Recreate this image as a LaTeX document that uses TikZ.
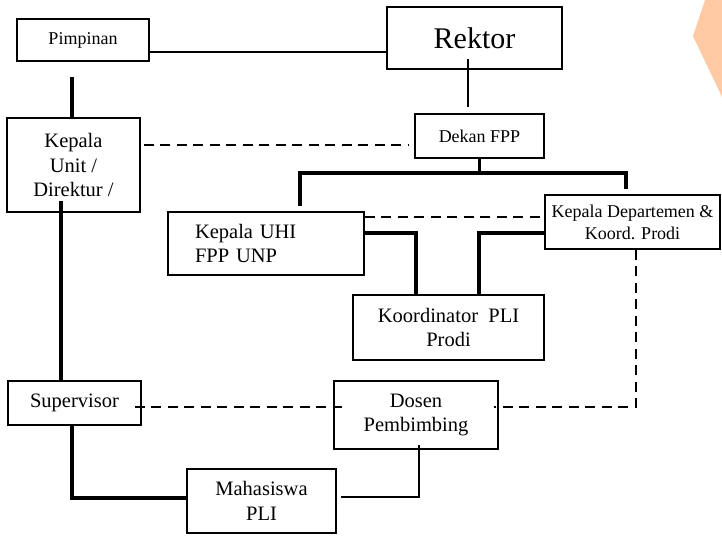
\documentclass[tikz,border=0pt]{standalone}
\usepackage{fontspec}
\setmainfont{Liberation Serif}
\definecolor{peach}{HTML}{FFC9A3}
\begin{document}
\begin{tikzpicture}[x=1pt,y=-1pt,
 box/.style={draw,line width=1.5pt,inner sep=0pt,align=center,font=\fontsize{20.5}{24.5}\selectfont},
 small/.style={font=\fontsize{18}{22}\selectfont},
 lin/.style={line width=1.4pt},
 heavy/.style={line width=3.6pt},
 dsh/.style={line width=1.4pt,dash pattern=on 10pt off 6.5pt}]
\useasboundingbox (0,0) rectangle (722,536);
\fill[peach] (705,0) -- (722,0) -- (722,97) -- (693,36) -- cycle;
\node[box,small,minimum width=132pt,minimum height=42pt] (pim) at (83,40) {Pimpinan};
\node[box,minimum width=175pt,minimum height=62pt,font=\fontsize{30}{34}\selectfont] (rek) at (474.5,38) {Rektor};
\node[box,small,minimum width=129pt,minimum height=44pt] (dekan) at (479.5,136) {Dekan FPP};
\node[box,minimum width=133pt,minimum height=94pt] (kunit) at (73.5,165) {Kepala\\Unit /\\Direktur /};
\node[box,minimum width=196pt,minimum height=63pt,text width=142pt,align=left] (uhi) at (266,243.5) {Kepala UHI\\FPP UNP};
\node[box,small,minimum width=175pt,minimum height=54pt] (kdep) at (632.5,222) {Kepala Departemen \&\\Koord. Prodi};
\node[box,minimum width=191pt,minimum height=65pt] (koord) at (448.5,327.5) {Koordinator\ \ PLI\\Prodi};
\node[box,minimum width=133pt,minimum height=44pt] (sup) at (74.5,403) {Supervisor};
\node[box,minimum width=164pt,minimum height=68pt] (dosen) at (416,415) {Dosen\\Pembimbing};
\node[box,minimum width=149pt,minimum height=64pt] (maha) at (261.5,501) {Mahasiswa\\PLI};
\draw[lin] ([yshift=-12pt]pim.east) -- ([yshift=-14pt]rek.west);
\draw[lin] ([xshift=-6.5pt,yshift=11pt]rek.south) -- ([xshift=-11.5pt,yshift=6pt]dekan.north);
\draw[dsh] ([xshift=3pt,yshift=20pt]kunit.east) -- ([xshift=-5pt,yshift=-9pt]dekan.west);
\draw[heavy] ([xshift=-1.5pt]kunit.north) -- ([xshift=-11pt,yshift=-15pt]pim.south);
\draw[heavy] (dekan.south) -- ++(0,14) coordinate (fork);
\draw[heavy] ([xshift=34pt,yshift=5pt]uhi.north) |- (fork) -| ([xshift=-6.5pt,yshift=5pt]kdep.north);
\draw[dsh] ([yshift=26.5pt]uhi.east) -- ([yshift=5pt]kdep.west);
\draw[heavy] ([yshift=10.5pt]uhi.east) -| ([xshift=-32.5pt]koord.north);
\draw[heavy] ([yshift=-11pt]kdep.west) -| ([xshift=30.5pt]koord.north);
\draw[dsh] ([xshift=3.5pt]kdep.south) |- ([xshift=-5pt,yshift=8pt]dosen.east);
\draw[heavy] ([xshift=-12.5pt,yshift=12pt]kunit.south) -- ([xshift=-13.5pt]sup.north);
\draw[dsh] ([xshift=-7pt,yshift=-4pt]sup.east) -- ([xshift=9pt,yshift=8pt]dosen.west);
\draw[heavy] ([xshift=-2.5pt]sup.south) |- ([yshift=3pt]maha.west);
\draw[lin] ([xshift=3pt,yshift=5pt]dosen.south) |- ([xshift=4pt,yshift=4pt]maha.east);
\end{tikzpicture}
\end{document}
